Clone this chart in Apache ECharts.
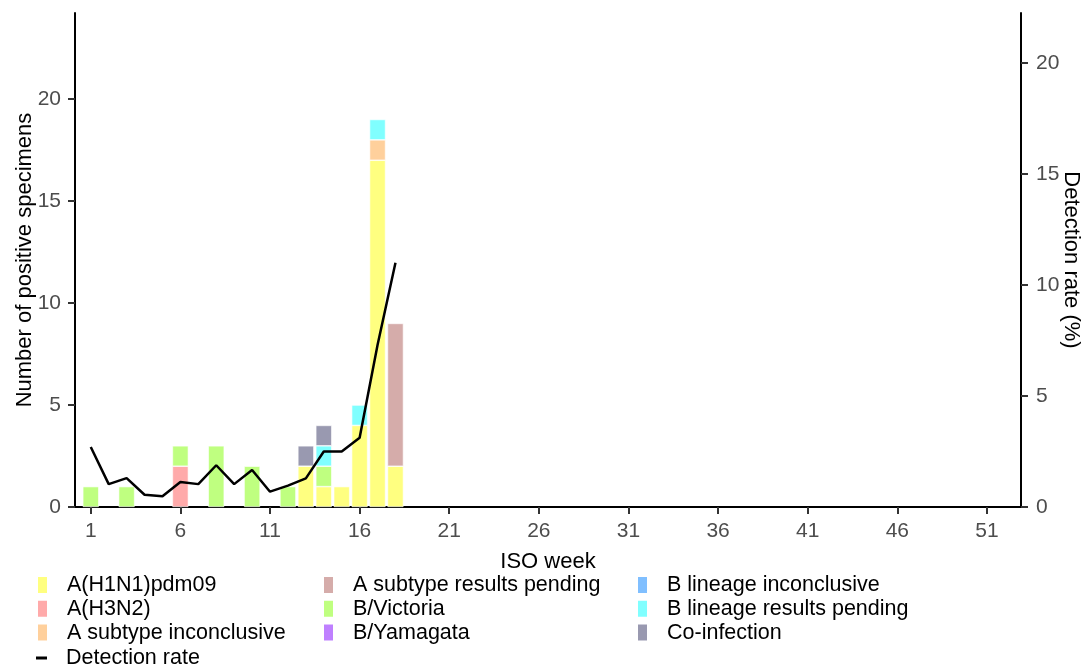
<!DOCTYPE html>
<html>
<head>
<meta charset="utf-8">
<script src="https://cdn.jsdelivr.net/npm/echarts@6/dist/echarts.min.js"></script>
<style>html,body{margin:0;padding:0;background:#fff}#c{width:1085px;height:671px}</style>
</head>
<body>
<div id="c"></div>
<script>
const weeks = [1,2,3,4,5,6,7,8,9,10,11,12,13,14,15,16,17,18];
const h1n1      = [0,0,0,0,0,0,0,0,0,0,0,0,2,1,1,4,17,2];
const h3n2      = [0,0,0,0,0,2,0,0,0,0,0,0,0,0,0,0,0,0];
const aInconc   = [0,0,0,0,0,0,0,0,0,0,0,0,0,0,0,0,1,0];
const aPending  = [0,0,0,0,0,0,0,0,0,0,0,0,0,0,0,0,0,7];
const bVictoria = [1,0,1,0,0,1,0,3,0,2,0,1,0,1,0,0,0,0];
const bYamagata = [0,0,0,0,0,0,0,0,0,0,0,0,0,0,0,0,0,0];
const bInconc   = [0,0,0,0,0,0,0,0,0,0,0,0,0,0,0,0,0,0];
const bPending  = [0,0,0,0,0,0,0,0,0,0,0,0,0,1,0,1,1,0];
const coInf     = [0,0,0,0,0,0,0,0,0,0,0,0,1,1,0,0,0,0];
const detectionRate = [2.7,1.03,1.3,0.55,0.48,1.13,1.03,1.88,1.03,1.67,0.69,0.96,1.29,2.5,2.5,3.12,7.3,11.0];
const xTicks = [1,6,11,16,21,26,31,36,41,46,51];
const yLeftTicks = [0,5,10,15,20];
const yRightTicks = [0,5,10,15,20];

const barDefs = [
  ['A(H1N1)pdm09', h1n1, '#FFFF80'],
  ['A(H3N2)', h3n2, '#FFAAAA'],
  ['A subtype inconclusive', aInconc, '#FFD09C'],
  ['A subtype results pending', aPending, '#D5ACAA'],
  ['B/Victoria', bVictoria, '#BFFF80'],
  ['B/Yamagata', bYamagata, '#BF80FF'],
  ['B lineage inconclusive', bInconc, '#80BFFF'],
  ['B lineage results pending', bPending, '#80FFFF'],
  ['Co-infection', coInf, '#9999B0']
];

const FONT = 'Liberation Sans, Arial, sans-serif';
// value first so that the count dimension is the stacked one; x from dim 1
const series = barDefs.map(([name, vals, color]) => ({
  name, type: 'bar', stack: 'total', stackStrategy: 'all', barWidth: 16,
  encode: { x: 1, y: 0 },
  itemStyle: { color, borderColor: '#fff', borderWidth: 0.6 },
  data: weeks.map((w, i) => vals[i] > 0
    ? { value: [vals[i], w] }
    : { value: [0, w], itemStyle: { borderWidth: 0, opacity: 0 } })
}));
series.push({
  name: 'Detection rate', type: 'line', yAxisIndex: 1, symbol: 'none',
  lineStyle: { color: '#000', width: 2.5 }, itemStyle: { color: '#000' },
  data: weeks.map((w, i) => [w, detectionRate[i]]), z: 5
});

const legendBase = {
  orient: 'vertical', selectedMode: false, padding: 0, icon: 'rect',
  itemWidth: 11, itemHeight: 18, itemGap: 1.8,
  textStyle: { fontFamily: FONT, fontSize: 21.5, color: '#000', padding: [0,0,0,14] }
};

const axisLine = { show: true, lineStyle: { color: '#000', width: 2 } };
const axisTickStyle = { show: true, length: 7, lineStyle: { color: '#333', width: 2 } };
const labelStyle = { fontFamily: FONT, fontSize: 21, color: '#4D4D4D' };
const nameStyle = { fontFamily: FONT, fontSize: 22, color: '#000' };

const option = {
  animation: false,
  backgroundColor: '#fff',
  grid: { left: 75, right: 64, top: 13, bottom: 164, containLabel: false, outerBoundsMode: 'none' },
  legend: [
    Object.assign({}, legendBase, { left: 36, top: 574, data: ['A(H1N1)pdm09','A(H3N2)','A subtype inconclusive'] }),
    Object.assign({}, legendBase, { left: 322, top: 574, data: ['A subtype results pending','B/Victoria','B/Yamagata'] }),
    Object.assign({}, legendBase, { left: 636, top: 574, data: ['B lineage inconclusive','B lineage results pending','Co-infection'] }),
    Object.assign({}, legendBase, { left: 36, top: 647, itemHeight: 3, data: ['Detection rate'] })
  ],
  xAxis: {
    type: 'value', min: 0.12, max: 52.9,
    name: 'ISO week', nameLocation: 'middle', nameGap: 44, nameMoveOverlap: false, nameTextStyle: nameStyle,
    axisLine, axisTick: Object.assign({}, axisTickStyle, { customValues: xTicks }),
    axisLabel: Object.assign({}, labelStyle, { customValues: xTicks, margin: 14 }),
    splitLine: { show: false }
  },
  yAxis: [
    {
      type: 'value', min: 0, max: 24.22, position: 'left',
      name: 'Number of positive specimens', nameLocation: 'middle', nameGap: 39, nameMoveOverlap: false, nameTextStyle: nameStyle,
      axisLine, axisTick: Object.assign({}, axisTickStyle, { customValues: yLeftTicks }),
      axisLabel: Object.assign({}, labelStyle, { customValues: yLeftTicks, margin: 14 }),
      splitLine: { show: false }
    },
    {
      type: 'value', min: 0, max: 22.25, position: 'right',
      name: 'Detection rate (%)', nameLocation: 'middle', nameGap: 39, nameRotate: -90, nameMoveOverlap: false, nameTextStyle: nameStyle,
      axisLine, axisTick: Object.assign({}, axisTickStyle, { customValues: yRightTicks }),
      axisLabel: Object.assign({}, labelStyle, { customValues: yRightTicks, margin: 15 }),
      splitLine: { show: false }
    }
  ],
  series
};
const chart = echarts.init(document.getElementById('c'), null, { renderer: 'canvas' });
chart.setOption(option);
</script>
</body>
</html>
